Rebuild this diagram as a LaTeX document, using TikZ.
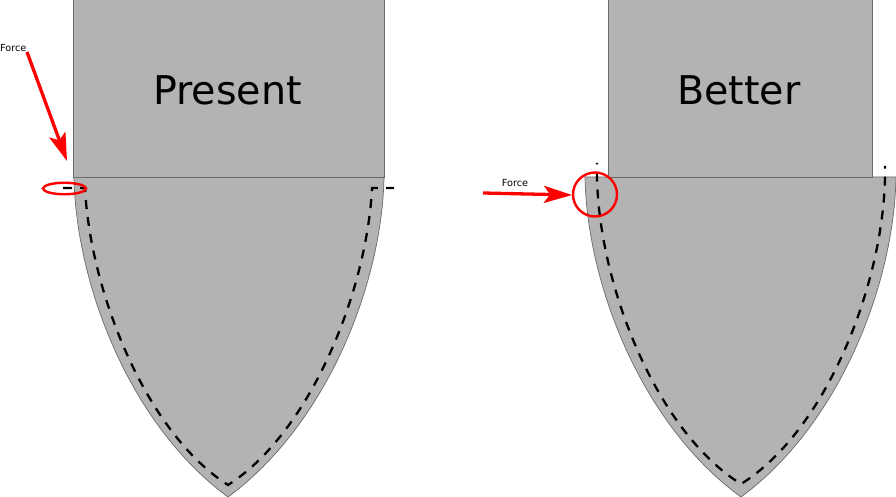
\documentclass[tikz,border=0pt]{standalone}
\usepackage{fontspec}
\setmainfont{DejaVu Sans}
\usetikzlibrary{arrows.meta,shapes.geometric}
\definecolor{fillgrey}{HTML}{B3B3B3}
\definecolor{edgegrey}{HTML}{6A6A6A}
\definecolor{forcered}{HTML}{FF0000}
\tikzset{
  part/.style={fill=fillgrey,draw=edgegrey,line width=0.7pt},
  seam/.style={draw=black,line width=2.3pt},
  force/.style={draw=forcered,line width=3.3pt,-{Stealth[length=28pt,width=17pt,inset=6pt,fill=forcered]}},
  ring/.style={draw=forcered,line width=2.4pt},
  small/.style={font=\fontsize{9.7}{9.7}\selectfont,inner sep=0pt,text=black},
  big/.style={font=\fontsize{39.6}{39.6}\selectfont,inner sep=0pt,text=black}
}
\begin{document}
\begin{tikzpicture}[x=1pt,y=-1pt]
\useasboundingbox (0,0) rectangle (896,497);
% left
\draw[part] (74,177) .. controls (76,285) and (130,425) .. (228,497) .. controls (326,425) and (382,285) .. (384,177) -- cycle;
\draw[part] (73,-2) rectangle (384,177);
\draw[seam,dash pattern=on 9pt off 8.05pt] (63,188) -- (85,188) .. controls (90,290) and (145,432) .. (228,485) .. controls (311,432) and (367,290) .. (372,188) -- (394,188);
\node[big] (present) at (227.5,90) {Present};
\node[small,anchor=west] (force1) at (0,48) {Force};
\coordinate (s1) at (27,52);
\coordinate (t1) at (67,161);
\draw[force] (s1) -- (t1);
\node[ring,ellipse,minimum width=43pt,minimum height=11.5pt,inner sep=0pt] (e1) at (64.5,188.5) {};
% right
\draw[part] (585,177) .. controls (587,285) and (642,425) .. (741,497) .. controls (839,425) and (894,285) .. (896,177) -- cycle;
\draw[part] (608,-2) rectangle (872,177);
\draw[seam,dash pattern=on 9pt off 8pt,dash phase=7.5pt] (597,163) -- (597,177) .. controls (599,285) and (656,431) .. (741,484) .. controls (826,431) and (883,285) .. (885,177) -- (885,166);
\node[big] (better) at (739,90) {Better};
\node[small] (force2) at (515,183) {Force};
\coordinate (s2) at (483,193);
\coordinate (t2) at (572,195);
\draw[force] (s2) -- (t2);
\node[ring,circle,minimum size=44pt,inner sep=0pt] (c2) at (595,194.5) {};
\end{tikzpicture}
\end{document}
